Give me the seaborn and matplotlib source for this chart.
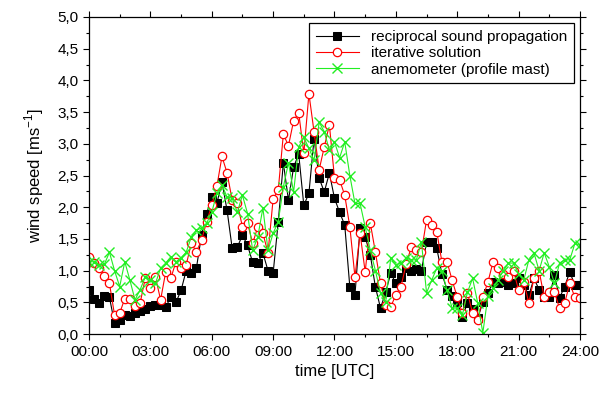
import matplotlib
matplotlib.use("Agg")
import matplotlib.pyplot as plt
from matplotlib.ticker import MultipleLocator, FuncFormatter
import seaborn as sns
import numpy as np
import pandas as pd

# time grid: 15 min steps from 00:00 to 24:00 (hours)
hours = np.arange(97) * 0.25

reciprocal = [0.70, 0.55, 0.49, 0.60, 0.58, 0.17, 0.22, 0.30, 0.28, 0.33,
              0.36, 0.40, 0.44, 0.46, 0.46, 0.43, 0.58, 0.50, 0.69, 1.00,
              0.96, 1.04, 1.56, 1.90, 2.16, 2.06, 2.40, 1.95, 1.35, 1.37,
              1.56, 1.40, 1.13, 1.12, 1.28, 1.00, 0.96, 1.77, 2.70, 2.11,
              2.63, 2.84, 2.03, 2.22, 3.08, 2.46, 2.24, 2.54, 2.14, 1.92,
              1.72, 0.74, 0.62, 1.67, 1.53, 1.25, 0.74, 0.41, 0.66, 0.96,
              0.80, 0.90, 1.04, 1.00, 1.02, 1.00, 1.45, 1.45, 1.35, 0.95,
              0.70, 0.60, 0.50, 0.27, 0.49, 0.40, 0.25, 0.50, 0.65, 0.82,
              0.80, 0.82, 0.77, 0.80, 0.88, 0.77, 0.61, 0.88, 0.70, 0.58,
              0.58, 0.93, 0.57, 0.75, 0.98, 0.77, 0.77]

iterative = [1.22, 1.12, 1.04, 0.92, 0.80, 0.30, 0.33, 0.56, 0.56, 0.44,
             0.49, 0.88, 0.72, 0.90, 0.54, 0.98, 0.88, 1.14, 1.04, 1.09,
             1.43, 1.30, 1.48, 1.77, 2.03, 2.33, 2.80, 2.54, 2.11, 2.06,
             1.69, 1.75, 1.43, 1.69, 1.59, 1.28, 2.13, 2.27, 3.15, 2.97,
             3.36, 3.49, 2.85, 3.79, 3.19, 2.59, 2.95, 3.30, 2.46, 2.43,
             2.19, 1.69, 0.90, 1.59, 0.98, 1.75, 1.29, 0.80, 0.46, 0.43,
             0.62, 0.75, 1.10, 1.37, 1.32, 1.30, 1.80, 1.72, 1.61, 1.14,
             1.14, 0.85, 0.58, 0.33, 0.65, 0.33, 0.22, 0.58, 0.82, 1.14,
             1.04, 0.95, 0.90, 1.00, 0.69, 0.82, 0.49, 0.88, 1.00, 0.58,
             0.66, 0.66, 0.41, 0.49, 0.80, 0.58, 0.57]

anemometer = [1.14, 1.14, 1.09, 1.10, 1.29, 1.00, 0.75, 1.14, 0.85, 0.54,
              0.70, 0.90, 0.85, 0.80, 1.04, 1.12, 1.22, 1.14, 1.20, 1.29,
              1.53, 1.64, 1.67, 1.75, 1.92, 2.22, 2.35, 2.16, 2.14, 1.92,
              2.19, 1.90, 1.32, 1.53, 1.99, 1.32, 1.59, 1.77, 2.32, 2.70,
              2.24, 2.95, 3.10, 2.93, 2.74, 3.34, 3.19, 2.90, 3.03, 2.78,
              3.03, 2.50, 2.06, 2.06, 1.69, 1.32, 1.00, 0.65, 0.50, 1.20,
              1.09, 1.12, 1.20, 1.17, 1.17, 1.45, 0.65, 0.85, 1.04, 1.00,
              0.69, 0.41, 0.41, 0.30, 0.66, 0.88, 0.49, 0.02, 0.60, 0.72,
              0.85, 1.00, 1.12, 1.12, 0.95, 0.85, 1.17, 1.28, 1.00, 1.28,
              1.06, 0.80, 1.12, 1.17, 1.17, 1.43, 1.40]

labels = ["reciprocal sound propagation", "iterative solution",
          "anemometer (profile mast)"]

plt.rcParams['font.family'] = ['Liberation Sans', 'DejaVu Sans']

fig = plt.figure(figsize=(6.15, 3.94), dpi=100)
ax = fig.add_axes([0.1447, 0.152, 0.7984, 0.805])

green = '#22ee22'
sns.lineplot(x=hours, y=reciprocal, ax=ax, color='black', lw=0.8,
             marker='s', markersize=5.5, markeredgecolor='black',
             label=labels[0])
sns.lineplot(x=hours, y=iterative, ax=ax, color='#ff0000', lw=0.8,
             marker='o', markersize=6, markerfacecolor='white',
             markeredgecolor='#ff0000', markeredgewidth=0.9,
             label=labels[1])
sns.lineplot(x=hours, y=anemometer, ax=ax, color=green, lw=0.8,
             marker='x', markersize=6.5, markeredgewidth=1.0,
             markeredgecolor=green, label=labels[2])

ax.set_xlim(0, 24)
ax.set_ylim(0, 5)
ax.xaxis.set_major_locator(MultipleLocator(3))
ax.xaxis.set_minor_locator(MultipleLocator(1.5))
ax.yaxis.set_major_locator(MultipleLocator(0.5))
ax.yaxis.set_minor_locator(MultipleLocator(0.25))
ax.xaxis.set_major_formatter(FuncFormatter(lambda v, p: "%02d:00" % int(v)))
ax.yaxis.set_major_formatter(FuncFormatter(lambda v, p: ("%.1f" % v).replace('.', ',')))

ax.tick_params(which='both', direction='out', top=True, right=True,
               labelsize=11, width=0.8, color='black')
ax.tick_params(which='major', length=4)
ax.tick_params(which='minor', length=2.5)
for s in ax.spines.values():
    s.set_linewidth(0.9)
    s.set_color('black')

ax.set_xlabel("time [UTC]", fontsize=12)
ax.set_ylabel("wind speed [ms$^{\\mathregular{-1}}$]", fontsize=12, labelpad=8)

leg = ax.legend(loc='upper right', fontsize=11, frameon=True, fancybox=False,
                edgecolor='black', framealpha=1, handlelength=2.8,
                borderpad=0.45, labelspacing=0.15, borderaxespad=0.4)
leg.get_frame().set_linewidth(0.9)

fig.savefig("out.png", dpi=100)
